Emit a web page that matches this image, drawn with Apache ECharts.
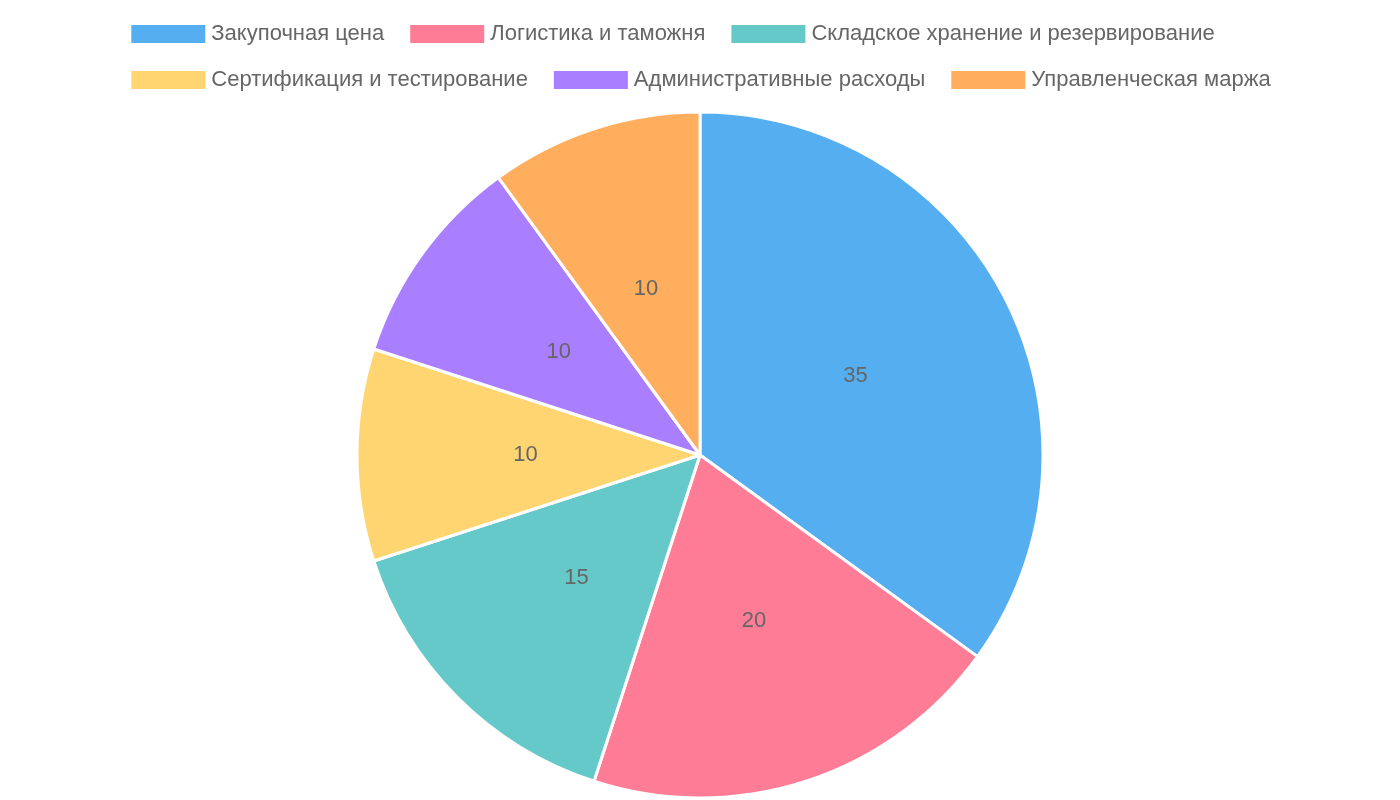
<!DOCTYPE html>
<html>
<head>
<meta charset="utf-8">
<script src="https://cdn.jsdelivr.net/npm/echarts@6/dist/echarts.min.js"></script>
<style>html,body{margin:0;padding:0;background:#fff}#c{width:1400px;height:800px}</style>
</head>
<body>
<div id="c"></div>
<script>
const categories = ['Закупочная цена', 'Логистика и таможня', 'Складское хранение и резервирование',
    'Сертификация и тестирование', 'Административные расходы', 'Управленческая маржа']
const values = [35, 20, 15, 10, 10, 10]
const colors = ['#54aeef', '#ff7c96', '#66c9c9', '#ffd572', '#a97eff', '#ffae5e']

const chart = echarts.init(document.getElementById('c'))
chart.setOption({
    color: colors,
    legend: {
        top: 18,
        left: 'center',
        width: 1300,
        itemWidth: 76,
        itemHeight: 20,
        itemGap: 24,
        icon: 'rect',
        textStyle: { color: '#666', fontSize: 22, fontFamily: 'Liberation Sans' },
        data: categories
    },
    series: [{
        type: 'pie',
        center: [700, 455],
        radius: 343,
        startAngle: 90,
        label: {
            position: 'inside',
            color: '#666',
            fontSize: 22,
            fontFamily: 'Liberation Sans',
            formatter: '{c}'
        },
        labelLine: { show: false },
        itemStyle: { borderColor: '#fff', borderWidth: 3 },
        emphasis: { scale: false },
        data: categories.map((name, i) => ({ name, value: values[i] }))
    }]
})
</script>
</body>
</html>
